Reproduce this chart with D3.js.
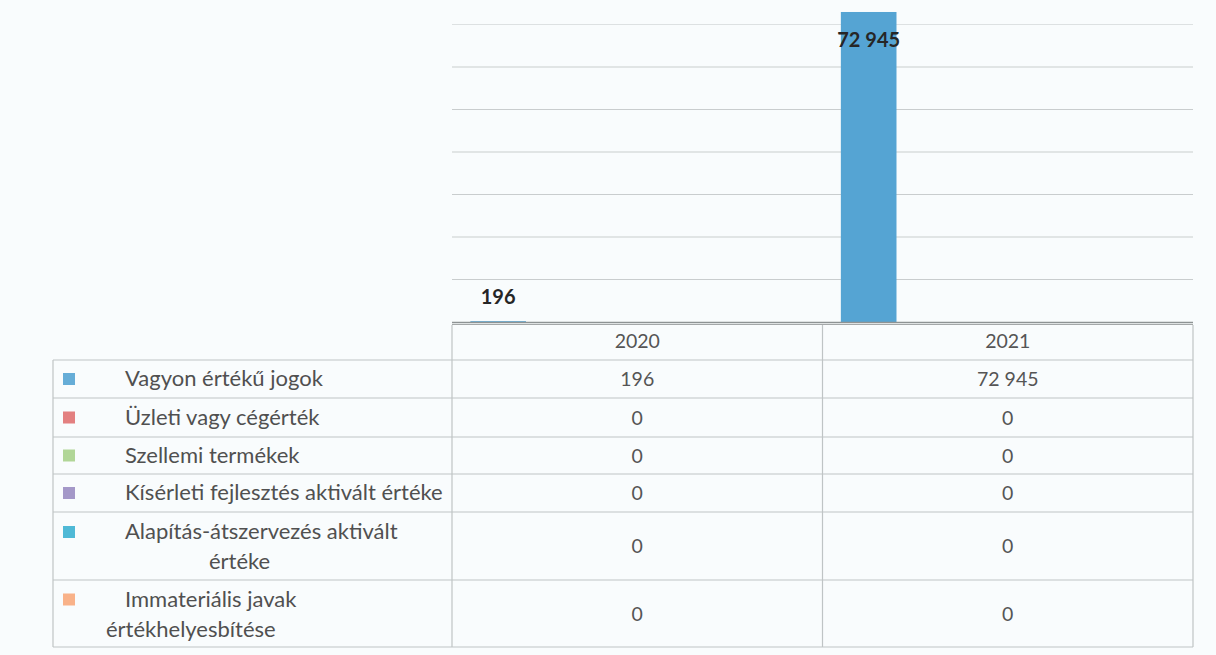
<!DOCTYPE html>
<html>
<head>
<meta charset="utf-8">
<script src="https://cdn.jsdelivr.net/npm/d3@7"></script>
<style>
  html, body { margin: 0; padding: 0; background: #f9fcfd; }
  svg { display: block; }
  text { font-family: Lato, "Open Sans", sans-serif; }
</style>
</head>
<body>
<svg id="chart" width="1216" height="655"></svg>
<script>
// Years on the category axis
const years = ["2020", "2021"];

// Series names (rows of the data table)
const seriesNames = [
  "Vagyon értékű jogok",
  "Üzleti vagy cégérték",
  "Szellemi termékek",
  "Kísérleti fejlesztés aktivált értéke",
  "Alapítás-átszervezés aktivált értéke",
  "Immateriális javak értékhelyesbítése"
];

// Values per series, one entry per year
const vagyonErtekuJogok = [196, 72945];
const uzletiVagyCegertek = [0, 0];
const szellemiTermekek = [0, 0];
const kiserletiFejlesztes = [0, 0];
const alapitasAtszervezes = [0, 0];
const immaterialisErtekhelyesbites = [0, 0];

const seriesValues = [
  vagyonErtekuJogok, uzletiVagyCegertek, szellemiTermekek,
  kiserletiFejlesztes, alapitasAtszervezes, immaterialisErtekhelyesbites
];

// Gridline values of the value axis
const yTicks = [0, 10000, 20000, 30000, 40000, 50000, 60000, 70000, 80000];

const colors = ["#55a4d3", "#e07272", "#a8d18c", "#9a8dc2", "#3cb1d2", "#f8aa7c"];

const hu = d3.formatLocale({ decimal: ",", thousands: "\u00a0", grouping: [3], currency: ["", " Ft"] });
const fmt = hu.format(",d");

const svg = d3.select("#chart");

// Plot geometry
const plotLeft = 452, plotRight = 1193, baseY = 322;
const tableLeft = 53;

const x = d3.scaleBand().domain(years).range([plotLeft, plotRight]).paddingInner(0).paddingOuter(0);
const y = d3.scaleLinear().domain([0, 80000]).range([baseY, baseY - 340]);

// Excel-like clustered layout: six series inside each year band
const inner = d3.scaleBand().domain(d3.range(seriesNames.length))
  .range([0, x.bandwidth()]).paddingInner(0).paddingOuter(0.33);

// Gridlines
svg.append("g")
  .selectAll("line")
  .data(yTicks.filter(t => t > 0))
  .join("line")
  .attr("x1", plotLeft).attr("x2", plotRight)
  .attr("y1", d => y(d)).attr("y2", d => y(d))
  .attr("stroke", d => d >= 70000 ? "#dde1e2" : "#c9cdce").attr("stroke-width", 1.2);

// Bars
const barG = svg.append("g");
seriesValues.forEach((vals, si) => {
  barG.selectAll(null)
    .data(vals.map((v, i) => ({ v, year: years[i] })))
    .join("rect")
    .attr("x", d => x(d.year) + inner(si))
    .attr("width", inner.bandwidth())
    .attr("y", d => y(d.v))
    .attr("height", d => baseY - y(d.v))
    .attr("fill", colors[si]);
});

// Data labels for the first series
svg.append("g")
  .selectAll("text")
  .data(vagyonErtekuJogok.map((v, i) => ({ v, year: years[i] })))
  .join("text")
  .attr("x", d => x(d.year) + inner(0) + inner.bandwidth() / 2)
  .attr("y", d => {
    const top = y(d.v);
    // labels that would leave the visible area are pulled inside the bar
    return top - 18 < 0 ? top + 35 : top - 17;
  })
  .attr("text-anchor", "middle")
  .attr("font-size", 20)
  .attr("font-weight", 700)
  .attr("fill", "#262626")
  .text(d => fmt(d.v));

// Category axis: double line
svg.append("line").attr("x1", plotLeft).attr("x2", plotRight)
  .attr("y1", baseY + 0.5).attr("y2", baseY + 0.5).attr("stroke", "#8e9394").attr("stroke-width", 1.3);
svg.append("line").attr("x1", plotLeft).attr("x2", plotRight)
  .attr("y1", baseY + 2.5).attr("y2", baseY + 2.5).attr("stroke", "#a4a8a9").attr("stroke-width", 1.1);

// Data table
const rowTops = [322, 360, 398, 437, 474, 512, 580, 647];
const gridColor = "#bfc4c5";
const tbl = svg.append("g");

// horizontal rules
rowTops.slice(1).forEach(ry => {
  tbl.append("line").attr("x1", tableLeft).attr("x2", plotRight)
    .attr("y1", ry).attr("y2", ry).attr("stroke", gridColor).attr("stroke-width", 1.2);
});
// vertical rules
[plotLeft, x("2021"), plotRight].forEach(cx => {
  tbl.append("line").attr("x1", cx).attr("x2", cx)
    .attr("y1", rowTops[0] + 3).attr("y2", rowTops[7]).attr("stroke", gridColor).attr("stroke-width", 1.2);
});
tbl.append("line").attr("x1", tableLeft).attr("x2", tableLeft)
  .attr("y1", rowTops[1]).attr("y2", rowTops[7]).attr("stroke", gridColor).attr("stroke-width", 1.2);

// year header
tbl.selectAll("text.yr")
  .data(years)
  .join("text")
  .attr("class", "yr")
  .attr("x", d => x(d) + x.bandwidth() / 2)
  .attr("y", (rowTops[0] + rowTops[1]) / 2 + 7)
  .attr("text-anchor", "middle")
  .attr("font-size", 19.5)
  .attr("fill", "#555")
  .text(d => d);

// row label lines (wrapped like the table cells)
const labelLines = [
  [{ t: "Vagyon értékű jogok", x: 125 }],
  [{ t: "Üzleti vagy cégérték", x: 125 }],
  [{ t: "Szellemi termékek", x: 125 }],
  [{ t: "Kísérleti fejlesztés aktivált értéke", x: 125 }],
  [{ t: "Alapítás-átszervezés aktivált", x: 125 }, { t: "értéke", x: 209 }],
  [{ t: "Immateriális javak", x: 125 }, { t: "értékhelyesbítése", x: 106 }]
];

seriesNames.forEach((name, i) => {
  const top = rowTops[i + 1], bot = rowTops[i + 2];
  const mid = (top + bot) / 2;
  const lines = labelLines[i];
  const lh = 30;
  const firstY = lines.length === 1 ? mid + 7 : mid - lh / 2 + 8;
  // legend key
  tbl.append("rect")
    .attr("x", 63).attr("width", 12)
    .attr("y", (lines.length === 1 ? mid : firstY - 7) - 6).attr("height", 12)
    .attr("fill", colors[i]).attr("opacity", 0.9);
  lines.forEach((ln, k) => {
    tbl.append("text")
      .attr("x", ln.x)
      .attr("y", firstY + k * lh)
      .attr("font-size", 22)
      .attr("fill", "#505050")
      .text(ln.t);
  });
  // values
  seriesValues[i].forEach((v, j) => {
    tbl.append("text")
      .attr("x", x(years[j]) + x.bandwidth() / 2)
      .attr("y", mid + 7)
      .attr("text-anchor", "middle")
      .attr("font-size", 19.5)
      .attr("fill", "#555")
      .text(fmt(v));
  });
});
</script>
</body>
</html>
